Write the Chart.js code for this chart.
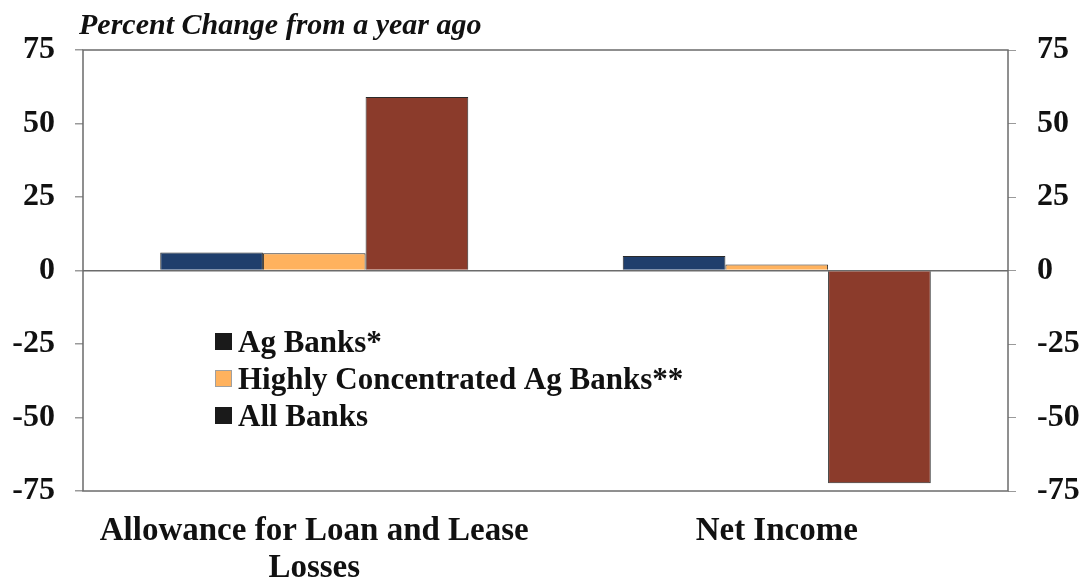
<!DOCTYPE html>
<html>
<head>
<meta charset="utf-8">
<script src="https://cdn.jsdelivr.net/npm/chart.js@4.4.1/dist/chart.umd.min.js"></script>
<style>
  html, body { margin: 0; padding: 0; background: #ffffff; }
  #wrap { width: 1085px; height: 584px; }
</style>
</head>
<body>
<div id="wrap"><canvas id="c" width="1085" height="584"></canvas></div>
<script>
const categories = [["Allowance for Loan and Lease", "Losses"], "Net Income"];
const seriesNames = ["Ag Banks*", "Highly Concentrated Ag Banks**", "All Banks"];
const agBanks = [6.1, 4.9];
const highlyConcentrated = [5.9, 2.0];
const allBanks = [59.0, -72.4];
const yTicks = [-75, -50, -25, 0, 25, 50, 75];
const titleText = "Percent Change from a year ago";

const barColors = ["#1f3e6c", "#ffb25e", "#8b3b2b"];
const legendSwatch = ["#1a1a1a", "#ffb25e", "#1a1a1a"];
const serif = "'Liberation Serif', 'Times New Roman', serif";

const overlay = {
  id: 'overlay',
  afterDraw(chart) {
    const ctx = chart.ctx;
    const a = chart.chartArea;
    ctx.save();
    // frame
    ctx.strokeStyle = '#6b6b6b';
    ctx.lineWidth = 1.5;
    ctx.strokeRect(a.left, a.top, a.right - a.left, a.bottom - a.top);
    // title
    ctx.fillStyle = '#111';
    ctx.font = "italic bold 30px " + serif;
    ctx.textBaseline = 'alphabetic';
    ctx.textAlign = 'left';
    ctx.fillText(titleText, 79, 34);
    // legend
    ctx.font = "bold 31px " + serif;
    const x0 = 215, y0 = 341, dy = 37;
    chart.data.datasets.forEach((ds, i) => {
      const y = y0 + i * dy;
      ctx.fillStyle = legendSwatch[i];
      ctx.fillRect(x0, y - 8, 17, 17);
      if (i === 1) { ctx.strokeStyle = '#a0a0a0'; ctx.lineWidth = 1; ctx.strokeRect(x0 + 0.5, y - 7.5, 16, 16); }
      ctx.fillStyle = '#111';
      ctx.textBaseline = 'alphabetic';
      ctx.fillText(ds.label, x0 + 23, y + 11);
    });
    ctx.restore();
  }
};

new Chart(document.getElementById('c'), {
  type: 'bar',
  data: {
    labels: categories,
    datasets: [
      { label: seriesNames[0], data: agBanks, backgroundColor: barColors[0] },
      { label: seriesNames[1], data: highlyConcentrated, backgroundColor: barColors[1] },
      { label: seriesNames[2], data: allBanks, backgroundColor: barColors[2] }
    ].map(d => Object.assign(d, { borderColor: '#2a2a2a', borderWidth: 1, categoryPercentage: 0.666, barPercentage: 1.0 }))
  },
  options: {
    responsive: false,
    animation: false,
    layout: { padding: { top: 50, left: 0, right: 0, bottom: 0 } },
    plugins: { legend: { display: false }, title: { display: false }, tooltip: { enabled: false } },
    scales: {
      x: {
        grid: { display: false, drawTicks: false },
        border: { display: false },
        ticks: { color: '#111', font: { family: serif, size: 33, weight: 'bold', lineHeight: 1.12 }, padding: 22, maxRotation: 0, autoSkip: false },
        afterFit(s) { s.height = 93; }
      },
      y: {
        position: 'left',
        min: -75, max: 75,
        afterBuildTicks(s) { s.ticks = yTicks.map(v => ({ value: v })); },
        grid: {
          drawOnChartArea: true, drawTicks: true, tickLength: 8,
          color: c => (c.tick && c.tick.value === 0) ? '#6b6b6b' : 'rgba(0,0,0,0)',
          tickColor: '#9a9a9a', lineWidth: 1.5
        },
        border: { display: false },
        ticks: { color: '#111', font: { family: serif, size: 32, weight: 'bold' }, padding: 20 },
        afterFit(s) { s.width = 83; }
      },
      y2: {
        position: 'right',
        min: -75, max: 75,
        afterBuildTicks(s) { s.ticks = yTicks.map(v => ({ value: v })); },
        grid: { drawOnChartArea: false, drawTicks: true, tickLength: 8, tickColor: '#9a9a9a' },
        border: { display: false },
        ticks: { color: '#111', font: { family: serif, size: 32, weight: 'bold' }, padding: 21 },
        afterFit(s) { s.width = 77; }
      }
    }
  },
  plugins: [overlay]
});
</script>
</body>
</html>
